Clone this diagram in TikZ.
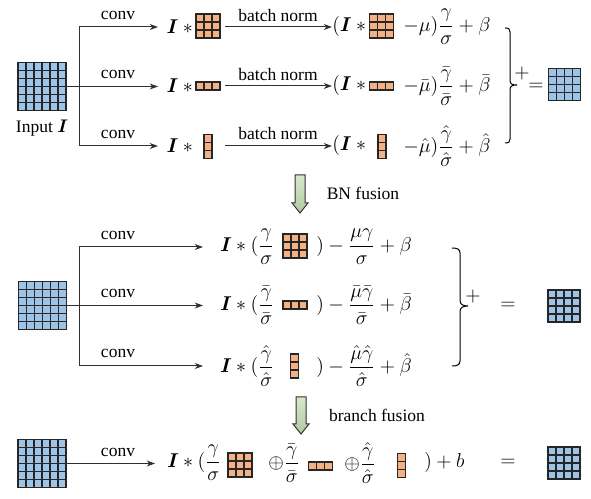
\documentclass[tikz,border=0pt]{standalone}
\usepackage{fontspec}
\setmainfont{Liberation Serif}
\usepackage{amsmath,bm}
\usetikzlibrary{arrows.meta}
\definecolor{gridblue}{HTML}{9DC3E6}
\definecolor{kernorange}{HTML}{F4B183}
\definecolor{arrowgreen}{HTML}{C5E0B4}
\definecolor{linegray}{HTML}{303030}
\tikzset{
  gridline/.style={draw=black!85, line width=1.1pt},
  inputgrid/.style={draw=black!85, fill=gridblue, inner sep=0pt, outer sep=0pt, line width=1.1pt},
  kernbox/.style={draw=black!85, fill=kernorange, inner sep=0pt, outer sep=0pt, line width=1.1pt},
  wire/.style={draw=linegray, line width=0.6pt},
  arr/.style={wire, -{Stealth[length=5pt,width=3.6pt]}},
  lbl/.style={inner sep=0pt},
  mth/.style={inner sep=0pt, anchor=west, font=\fontsize{12.5}{15}\selectfont},
  mlbl/.style={inner sep=0pt, font=\fontsize{12.5}{15}\selectfont},
  bracestyle/.style={draw=black, line width=0.6pt},
  fusearrow/.style={draw=linegray, line width=0.6pt, top color=arrowgreen!70!white, bottom color=arrowgreen!90!black},
}
\newcommand\gridnode[7]{%
  \node[#7, minimum width={#4*#6*0.6pt}, minimum height={#5*#6*0.6pt}] (#1) at (#2,#3) {};
  \foreach \i in {0,...,#4} \draw[gridline] ([xshift={\i*#6*0.6pt}]#1.north west) -- ([xshift={\i*#6*0.6pt}]#1.south west);
  \foreach \j in {0,...,#5} \draw[gridline] ([yshift={-\j*#6*0.6pt}]#1.north west) -- ([yshift={-\j*#6*0.6pt}]#1.north east);
}
\newcommand\binsp{\mskip\medmuskip}
\begin{document}
\begin{tikzpicture}[x=0.6pt,y=-0.6pt, font=\fontsize{10.5}{12}\selectfont]
\useasboundingbox (0,0) rectangle (591,499);

% ================= TOP =================
\gridnode{in1}{42}{86.5}{6}{6}{8}{inputgrid}
\node[lbl] (inlbl) at (42,128) {Input $\bm{I}$};

\node[mth, inner xsep=5pt] (r1a) at (158,27) {$\bm{I}\binsp{\ast}$};
\node[mth, inner xsep=5pt] (r2a) at (158,86) {$\bm{I}\binsp{\ast}$};
\node[mth, inner xsep=5pt] (r3a) at (158,146) {$\bm{I}\binsp{\ast}$};

\gridnode{k1a}{208}{26}{3}{3}{8}{kernbox}
\gridnode{k2a}{208}{86}{3}{1}{8}{kernbox}
\gridnode{k3a}{208}{146.5}{1}{3}{8}{kernbox}

\coordinate (t1) at (79,27);
\coordinate (t3) at (79,146);
\draw[wire] (t1) -- (t3);
\draw[arr] (in1.east) -- (in1.east -| r2a.west);
\draw[arr] (t1) -- (t1 -| r1a.west);
\draw[arr] (t3) -- (t3 -| r3a.west);
\node[lbl] (c1) at (118,15) {conv};
\node[lbl] (c2) at (118,74) {conv};
\node[lbl] (c3) at (118,134) {conv};

\node[mth] (r1b) at (332,27) {$(\bm{I}\binsp{\ast}$};
\node[mth] (r2b) at (332,86) {$(\bm{I}\binsp{\ast}$};
\node[mth] (r3b) at (332,146) {$(\bm{I}\binsp{\ast}$};
\coordinate (bn1) at (225,27);
\coordinate (bn2) at (225,86);
\coordinate (bn3) at (225,146);
\draw[arr] (bn1) -- (bn1 -| r1b.west);
\draw[arr] (bn2) -- (bn2 -| r2b.west);
\draw[arr] (bn3) -- (bn3 -| r3b.west);
\node[lbl] (b1) at (278,16) {batch norm};
\node[lbl] (b2) at (278,75) {batch norm};
\node[lbl] (b3) at (278,134) {batch norm};

\gridnode{k1b}{381.5}{26}{3}{3}{8}{kernbox}
\gridnode{k2b}{381.5}{86}{3}{1}{8}{kernbox}
\gridnode{k3b}{382}{146.5}{1}{3}{8}{kernbox}

\node[mth] (r1c) at (403,27) {$-\mu)\dfrac{\gamma}{\sigma}+\beta$};
\node[mth] (r2c) at (403,86) {$-\bar{\mu})\dfrac{\bar{\gamma}}{\bar{\sigma}}+\bar{\beta}$};
\node[mth] (r3c) at (403,146) {$-\hat{\mu})\dfrac{\hat{\gamma}}{\hat{\sigma}}+\hat{\beta}$};

\draw[bracestyle] (505,28) .. controls (509,28) and (510,29) .. (510,32) -- (510,80)
  .. controls (510,84) and (512,85) .. (517,85)
  .. controls (512,85) and (510,86) .. (510,90) -- (510,139)
  .. controls (510,142) and (509,143) .. (505,143);
\node[mlbl] (plus1) at (522,74) {$+$};
\node[mlbl] (eq1) at (536,87) {$=$};
\gridnode{out1}{564.5}{84.5}{4}{4}{8}{inputgrid}

% ================= BN fusion arrow =================
\draw[fusearrow] (295,175) -- (305,175) -- (305,203) -- (308,203) -- (300,213) -- (292,203) -- (295,203) -- cycle;
\node[lbl] (bnf) at (363,193) {BN fusion};

% ================= MIDDLE =================
\gridnode{in2}{42.5}{305.5}{6}{6}{8}{inputgrid}
\node[mth, inner xsep=10pt] (m1a) at (203,247) {$\bm{I}\ast(\dfrac{\gamma}{\sigma}$};
\node[mth, inner xsep=10pt] (m2a) at (203,305) {$\bm{I}\ast(\dfrac{\bar{\gamma}}{\bar{\sigma}}$};
\node[mth, inner xsep=10pt] (m3a) at (203,366) {$\bm{I}\ast(\dfrac{\hat{\gamma}}{\hat{\sigma}}$};
\coordinate (u1) at (79,247);
\coordinate (u3) at (79,366);
\draw[wire] (u1) -- (u3);
\draw[arr] (in2.east) -- (in2.east -| m2a.west);
\draw[arr] (u1) -- (u1 -| m1a.west);
\draw[arr] (u3) -- (u3 -| m3a.west);
\node[lbl] (c4) at (118,235) {conv};
\node[lbl] (c5) at (118,293) {conv};
\node[lbl] (c6) at (118,353) {conv};

\gridnode{k1c}{295}{246}{3}{3}{8}{kernbox}
\gridnode{k2c}{295}{305}{3}{1}{8}{kernbox}
\gridnode{k3c}{294.5}{366}{1}{3}{8}{kernbox}

\node[mth] (m1b) at (316,247) {$)-\dfrac{\mu\gamma}{\sigma}+\beta$};
\node[mth] (m2b) at (316,305) {$)-\dfrac{\bar{\mu}\bar{\gamma}}{\bar{\sigma}}+\bar{\beta}$};
\node[mth] (m3b) at (316,366) {$)-\dfrac{\hat{\mu}\hat{\gamma}}{\hat{\sigma}}+\hat{\beta}$};

\draw[bracestyle] (452,248) .. controls (457,248) and (460,249) .. (460,253) -- (460,300)
  .. controls (460,304) and (462,306) .. (468,306)
  .. controls (462,306) and (460,308) .. (460,312) -- (460,361)
  .. controls (460,365) and (457,366) .. (452,366);
\node[mlbl] (plus2) at (473,297) {$+$};
\node[mlbl] (eq2) at (508,306) {$=$};
\gridnode{out2}{564}{306}{4}{4}{8}{inputgrid}

% ================= branch fusion arrow =================
\draw[fusearrow] (296,397) -- (306,397) -- (306,424) -- (309,424) -- (301,434) -- (293,424) -- (296,424) -- cycle;
\node[lbl] (brf) at (377,415) {branch fusion};

% ================= BOTTOM =================
\gridnode{in3}{42}{463.5}{6}{6}{8}{inputgrid}
\node[mth, inner xsep=7pt] (f1) at (155,463) {$\bm{I}\ast(\dfrac{\gamma}{\sigma}$};
\draw[arr] (in3.east) -- (in3.east -| f1.west);
\node[lbl] (c7) at (118,452) {conv};
\gridnode{k1d}{240}{465}{3}{3}{8}{kernbox}
\node[mth] (f2) at (268,463) {$\oplus\dfrac{\bar{\gamma}}{\bar{\sigma}}$};
\gridnode{k2d}{320.5}{466}{3}{1}{8}{kernbox}
\node[mth] (f3) at (344,463) {$\oplus\dfrac{\hat{\gamma}}{\hat{\sigma}}$};
\gridnode{k3d}{401.5}{465.5}{1}{3}{8}{kernbox}
\node[mth] (f4) at (424,463) {$)+b$};
\node[mlbl] (eq3) at (508,463) {$=$};
\gridnode{out3}{564}{463}{4}{4}{8}{inputgrid}
\end{tikzpicture}
\end{document}
